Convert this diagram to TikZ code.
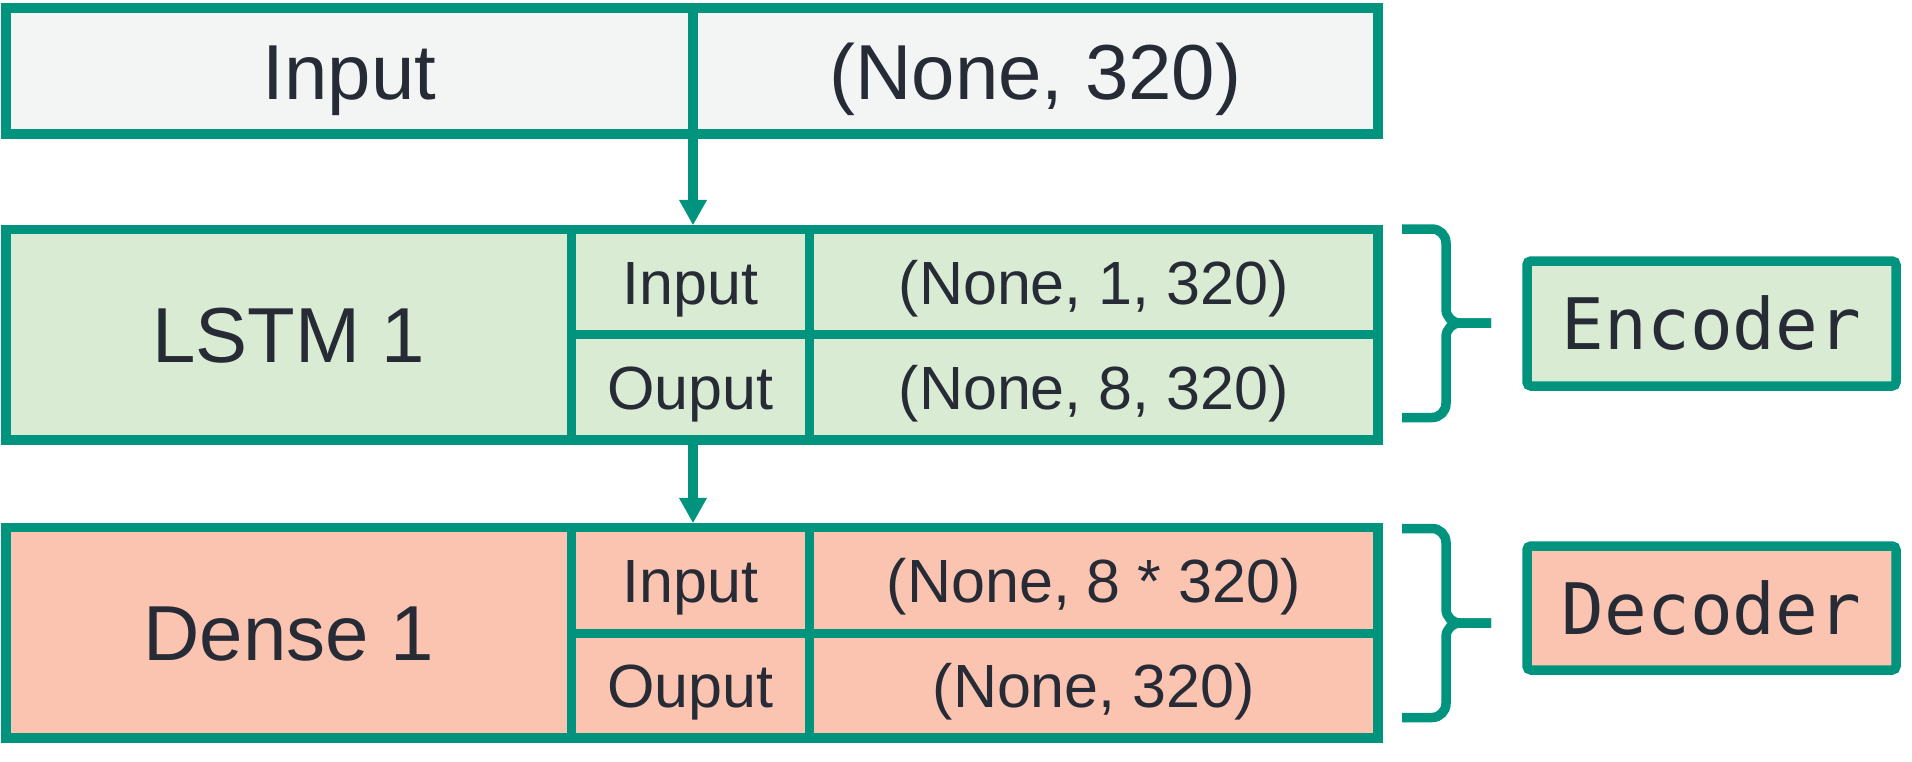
\documentclass[tikz,border=0pt]{standalone}
\usepackage{fontspec}
\setmainfont{Liberation Sans}
\newfontfamily\monofam{DejaVu Sans Mono}
\usetikzlibrary{arrows.meta}
\definecolor{edge}{HTML}{00947E}
\definecolor{ink}{HTML}{272B36}
\definecolor{greyfill}{HTML}{F3F5F5}
\definecolor{greenfill}{HTML}{D9EBD3}
\definecolor{salmonfill}{HTML}{FBC4B1}

\begin{document}
\begin{tikzpicture}[x=1pt,y=-1pt,
  cell/.style={draw=edge, line width=9.5pt, inner sep=0pt, outer sep=0pt, text=ink, anchor=center},
  big/.style={font=\fontsize{78}{90}\selectfont, text height=56pt, text depth=0pt},
  small/.style={font=\fontsize{61}{72}\selectfont, text height=44pt, text depth=0pt},
  tag/.style={cell, rounded corners=4pt, font=\monofam\fontsize{71}{80}\selectfont, text height=52pt, text depth=0pt},
  flow/.style={draw=edge, line width=9.5pt, -{Triangle[width=28pt,length=25pt,line width=0.5pt]}, shorten >=4.75pt},
  brace/.style={draw=edge, line width=9.5pt, rounded corners=14pt}]
\useasboundingbox (0,0) rectangle (1912,761);

% input layer
\node[cell,big,fill=greyfill,minimum width=687pt,minimum height=126pt] (inL) at (349.5,71) {Input};
\node[cell,big,fill=greyfill,minimum width=685pt,minimum height=126pt] (inR) at (1035.5,71) {(None, 320)};

% LSTM layer
\node[cell,big,fill=greenfill,minimum width=565.5pt,minimum height=210.5pt] (lstm) at (288.75,334.75) {LSTM 1};
\node[cell,small,fill=greenfill,minimum width=238pt,minimum height=105pt] (lstmIn) at (690.5,282) {Input};
\node[cell,small,fill=greenfill,minimum width=238pt,minimum height=105.5pt] (lstmOut) at (690.5,387.25) {Ouput};
\node[cell,small,fill=greenfill,minimum width=568.5pt,minimum height=105pt] (lstmInShape) at (1093.75,282) {(None, 1, 320)};
\node[cell,small,fill=greenfill,minimum width=568.5pt,minimum height=105.5pt] (lstmOutShape) at (1093.75,387.25) {(None, 8, 320)};

% dense layer
\node[cell,big,fill=salmonfill,minimum width=565.5pt,minimum height=210.5pt] (dense) at (288.75,632.75) {Dense 1};
\node[cell,small,fill=salmonfill,minimum width=238pt,minimum height=106pt] (denseIn) at (690.5,580.5) {Input};
\node[cell,small,fill=salmonfill,minimum width=238pt,minimum height=104.5pt] (denseOut) at (690.5,685.75) {Ouput};
\node[cell,small,fill=salmonfill,minimum width=568.5pt,minimum height=106pt] (denseInShape) at (1093.75,580.5) {(None, 8 * 320)};
\node[cell,small,fill=salmonfill,minimum width=568.5pt,minimum height=104.5pt] (denseOutShape) at (1093.75,685.75) {(None, 320)};

% data flow
\draw[flow] (inL.south east) -- (inL.south east |- lstmIn.north);
\draw[flow] (inL.south east |- lstmOut.south) -- (inL.south east |- denseIn.north);

% encoder / decoder labels
\node[tag,fill=greenfill,minimum width=369pt,minimum height=125pt] (enc) at (1711.5,323.5) {Encoder};
\node[tag,fill=salmonfill,minimum width=369pt,minimum height=124pt] (dec) at (1711.5,608) {Decoder};

% braces
\coordinate (encTop) at (1402,229);
\coordinate (encBot) at (1402,417.5);
\coordinate (encTip) at (1491,323);
\draw[brace] (encTop) -| (1446,323) -- (encTip);
\draw[brace] (encBot) -| (1446,323) -- (encTip);

\coordinate (decTop) at (1402,528.5);
\coordinate (decBot) at (1402,717.5);
\coordinate (decTip) at (1491,623);
\draw[brace] (decTop) -| (1446,623) -- (decTip);
\draw[brace] (decBot) -| (1446,623) -- (decTip);
\end{tikzpicture}
\end{document}
